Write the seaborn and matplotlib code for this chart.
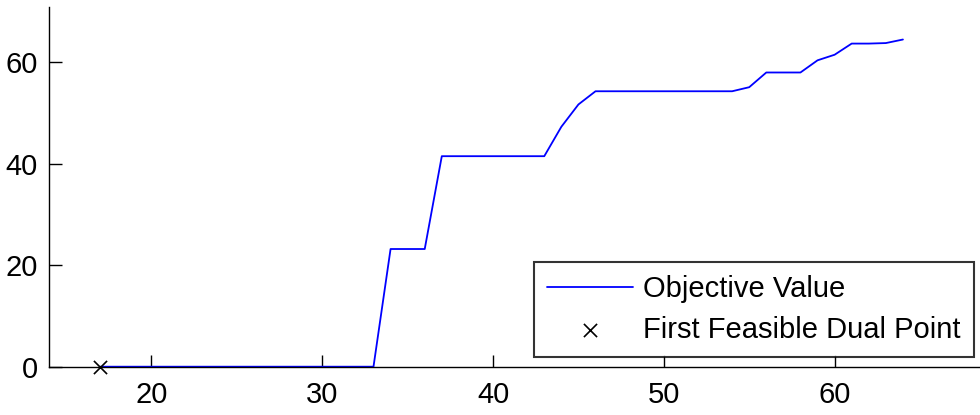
import numpy as np
import pandas as pd
import matplotlib
matplotlib.use("Agg")
import matplotlib.pyplot as plt
import seaborn as sns

# Objective value per iteration
iterations = list(range(17, 65))
objective = (
    [0.0] * 17                      # iterations 17-33
    + [23.2, 23.2, 23.2]            # 34-36
    + [41.5] * 7                    # 37-43
    + [47.3, 51.7]                  # 44-45
    + [54.3] * 9                    # 46-54
    + [55.1, 58.0, 58.0, 58.0]      # 55-58
    + [60.4, 61.5, 63.7, 63.7, 63.8, 64.5]  # 59-64
)
first_feasible_x = [17]
first_feasible_y = [0.0]

xticks = [20, 30, 40, 50, 60]
yticks = [0, 20, 40, 60]

df = pd.DataFrame({"iteration": iterations, "objective": objective})
df_pt = pd.DataFrame({"iteration": first_feasible_x, "objective": first_feasible_y})

sns.set_theme(style="white")
plt.rcParams["font.family"] = ["Liberation Sans", "DejaVu Sans"]
plt.rcParams["text.color"] = "black"
plt.rcParams["axes.labelcolor"] = "black"

fig = plt.figure(figsize=(9.8, 4.15), dpi=100)
ax = fig.add_axes([0.05, 0.1164, 0.955, 0.8666])

sns.lineplot(data=df, x="iteration", y="objective", ax=ax, color="#0000ff",
             linewidth=1.3, label="Objective Value")
sns.scatterplot(data=df_pt, x="iteration", y="objective", ax=ax, marker="x",
                color="black", s=90, linewidth=1.2, label="First Feasible Dual Point",
                zorder=5, clip_on=False)

ax.set_xlim(14, 68.8)
ax.set_ylim(0, 70.9)
ax.set_xticks(xticks)
ax.set_yticks(yticks)
ax.set_xlabel("")
ax.set_ylabel("")

for side in ("top", "right"):
    ax.spines[side].set_visible(False)
for side in ("left", "bottom"):
    ax.spines[side].set_color("black")
    ax.spines[side].set_linewidth(1.0)

ax.tick_params(axis="both", direction="in", length=9, width=1.0, colors="black",
               labelsize=21, left=True, bottom=True)
ax.tick_params(axis="x", pad=10)
ax.tick_params(axis="y", pad=8)

leg = ax.legend(loc="lower right", bbox_to_anchor=(0.988, 0.027), borderaxespad=0,
                fontsize=21, frameon=True, fancybox=False, edgecolor="black",
                handlelength=2.95, handletextpad=0.35, labelspacing=0.45,
                borderpad=0.45)
leg.get_frame().set_linewidth(1.5)
for t in leg.get_texts():
    t.set_color("black")

fig.savefig("out.png", dpi=100, facecolor="white")
